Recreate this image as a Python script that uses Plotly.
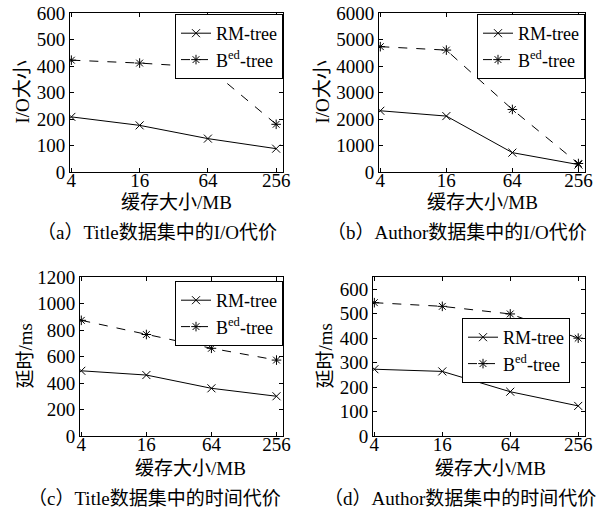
import plotly.graph_objects as go
import math

cache_mb = [4, 16, 64, 256]
x_ticks = ["4", "16", "64", "256"]

io_title_rm = [208, 176, 126, 88]
io_title_bed = [422, 411, 395, 180]
io_author_rm = [2310, 2110, 730, 280]
io_author_bed = [4730, 4600, 2360, 320]
lat_title_rm = [492, 460, 360, 300]
lat_title_bed = [873, 766, 662, 573]
lat_author_rm = [273, 264, 181, 123]
lat_author_bed = [545, 530, 499, 400]

captions = ["（a）Title数据集中的I/O代价", "（b）Author数据集中的I/O代价",
            "（c）Title数据集中的时间代价", "（d）Author数据集中的时间代价"]
ytitles = ["I/O大小", "I/O大小", "延时/ms", "延时/ms"]
xtitle = "缓存大小/MB"
names = ["RM-tree", "B<sup>ed</sup>-tree"]

W, H = 608, 516
SERIF = "Liberation Serif, Noto Sans CJK SC, serif"

# panel boxes in pixels: left, right, top, bottom
boxes = [(70, 283, 13, 172), (379, 585, 13, 172), (80, 283, 277, 436), (373, 585, 277, 436)]
yranges = [(0, 600, 100), (0, 6000, 1000), (0, 1200, 200), (0, 650, 100)]
data = [(io_title_rm, io_title_bed), (io_author_rm, io_author_bed),
        (lat_title_rm, lat_title_bed), (lat_author_rm, lat_author_bed)]
legpos = [(283, 14), (585, 14), (283, 281), (570, 318)]
ytitle_x = [22, 322, 25, 325]
xtitle_pos = [(176, 202), (482, 202), (190, 468), (490, 468)]
cap_pos = [(157, 232), (457, 232), (155, 498), (460, 498)]

fig = go.Figure()
l4 = math.log10(4)
xr = [math.log10(4) - 0.02 * l4, math.log10(256) + 0.1 * l4]

annotations = []
for i in range(4):
    L, R, T, B = boxes[i]
    xa = "x" if i == 0 else f"x{i+1}"
    ya = "y" if i == 0 else f"y{i+1}"
    lg = "legend" if i == 0 else f"legend{i+1}"
    rm, bed = data[i]
    fig.add_trace(go.Scatter(x=cache_mb, y=rm, name=names[0], mode="lines+markers",
                             line=dict(color="black", width=1),
                             marker=dict(symbol="x-thin-open", size=8, color="black",
                                         line=dict(width=1, color="black")),
                             xaxis=xa, yaxis=ya, legend=lg))
    fig.add_trace(go.Scatter(x=cache_mb, y=bed, name=names[1], mode="lines+markers",
                             line=dict(color="black", width=1, dash="dash"),
                             marker=dict(symbol="asterisk-open", size=8, color="black",
                                         line=dict(width=1, color="black")),
                             xaxis=xa, yaxis=ya, legend=lg))
    axcommon = dict(showline=True, linecolor="black", linewidth=1, mirror="ticks",
                    ticks="inside", ticklen=4, tickcolor="black", showgrid=False,
                    zeroline=False, automargin=False,
                    tickfont=dict(family=SERIF, size=19, color="black"))
    xkey = "xaxis" if i == 0 else f"xaxis{i+1}"
    ykey = "yaxis" if i == 0 else f"yaxis{i+1}"
    fig.update_layout(**{
        xkey: dict(domain=[L / W, R / W], anchor=ya, type="log", range=xr,
                   tickvals=cache_mb, ticktext=x_ticks, ticklabelstandoff=-9, **axcommon),
        ykey: dict(domain=[1 - B / H, 1 - T / H], anchor=xa, range=[yranges[i][0], yranges[i][1]],
                   dtick=yranges[i][2], tick0=0, ticklabelstandoff=0, **axcommon),
        lg: dict(x=legpos[i][0] / W, y=1 - legpos[i][1] / H, xanchor="right", yanchor="top",
                 bordercolor="black", borderwidth=1, bgcolor="white",
                 font=dict(family=SERIF, size=18, color="black"), tracegroupgap=0,
                 itemwidth=30),
    })
    annotations.append(dict(x=ytitle_x[i] / W, y=1 - ((T + B) / 2) / H, xref="paper", yref="paper",
                            xanchor="center", yanchor="middle",
                            text=ytitles[i], textangle=-90, showarrow=False,
                            font=dict(family=SERIF, size=19, color="black")))
    annotations.append(dict(x=xtitle_pos[i][0] / W, y=1 - xtitle_pos[i][1] / H, xref="paper", yref="paper",
                            xanchor="center", yanchor="middle",
                            text=xtitle, showarrow=False,
                            font=dict(family=SERIF, size=19, color="black")))
    annotations.append(dict(x=cap_pos[i][0] / W, y=1 - cap_pos[i][1] / H, xref="paper", yref="paper",
                            xanchor="center", yanchor="middle",
                            text=captions[i], showarrow=False,
                            font=dict(family=SERIF, size=19, color="black")))

fig.update_layout(width=W, height=H, margin=dict(l=0, r=0, t=0, b=0),
                  paper_bgcolor="white", plot_bgcolor="white", annotations=annotations)
fig.write_html("out.html")
